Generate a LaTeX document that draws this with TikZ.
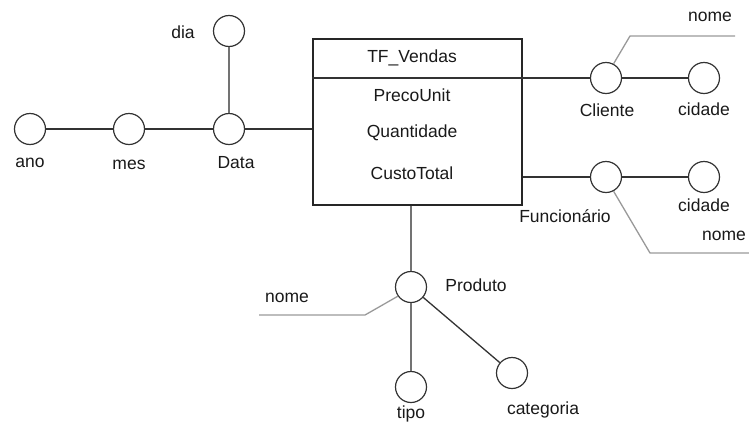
\documentclass[tikz,border=0pt]{standalone}
\usepackage{fontspec}
\setmainfont{Liberation Sans}
\usetikzlibrary{calc}

\tikzset{
    attr/.style={circle, draw=black!80, line width=1.2pt, minimum size=31pt, inner sep=0pt},
    lbl/.style={font=\fontsize{17.5}{20}\selectfont, text=black!90, inner sep=1pt},
    link/.style={line width=1.3pt, draw=black!80},
    greylink/.style={line width=1.8pt, draw=black!55},
    namelink/.style={line width=1.3pt, draw=black!40}
}

\begin{document}
\begin{tikzpicture}[x=1pt, y=-1pt]
    \useasboundingbox (0,0) rectangle (749,426);

    % Fact table
    \node[draw=black!85, line width=1.3pt, minimum width=209pt, minimum height=166pt, inner sep=0pt] (vendas) at (417.5,122) {};
    \draw[line width=1.3pt, black!80] (vendas.west |- 0,78) -- (vendas.east |- 0,78);
    \node[lbl] (tf) at (412,58) {TF\_Vendas};
    \node[lbl] (preco) at (412,95) {PrecoUnit};
    \node[lbl] (qtd) at (412,133) {Quantidade};
    \node[lbl] (custo) at (412,173) {CustoTotal};

    % Data dimension
    \node[attr] (ano) at (30,129) {};
    \node[attr] (mes) at (129,129) {};
    \node[attr] (data) at (229,129) {};
    \node[attr] (dia) at (229,31) {};
    \node[lbl] (anolbl) at (30,163) {ano};
    \node[lbl] (meslbl) at (129,165) {mes};
    \node[lbl] (datalbl) at (236,163) {Data};
    \node[lbl] (dialbl) at (183,32) {dia};

    \draw[link] (ano) -- (mes);
    \draw[link] (mes) -- (data);
    \draw[link] (data) -- (data -| vendas.west);
    \draw[greylink] (data) -- (dia);

    % Cliente dimension
    \node[attr] (cliente) at (606,78) {};
    \node[attr] (cidadecli) at (704,78) {};
    \node[lbl] (clientelbl) at (607,110) {Cliente};
    \node[lbl] (cidadeclilbl) at (704,109) {cidade};
    \node[lbl] (nomeclilbl) at (710,17) {nome};
    \coordinate (nomecli1) at (630,36);
    \coordinate (nomecli2) at (735,36);

    \draw[link] (cliente -| vendas.east) -- (cliente);
    \draw[link] (cliente) -- (cidadecli);
    \draw[namelink] (cliente.62) -- (nomecli1) -- (nomecli2);

    % Funcionario dimension
    \node[attr] (func) at (606,177) {};
    \node[attr] (cidadefunc) at (704,177) {};
    \node[lbl] (funclbl) at (565,216) {Funcionário};
    \node[lbl] (cidadefunclbl) at (704,205) {cidade};
    \node[lbl] (nomefunclbl) at (724,236) {nome};
    \coordinate (nomefunc1) at (650,253);
    \coordinate (nomefunc2) at (749,253);

    \draw[link] (func -| vendas.east) -- (func);
    \draw[link] (func) -- (cidadefunc);
    \draw[namelink] (func.-62) -- (nomefunc1) -- (nomefunc2);

    % Produto dimension
    \node[attr] (produto) at (411,287) {};
    \node[attr] (tipo) at (411,387) {};
    \node[attr] (categoria) at (512,373) {};
    \node[lbl] (produtolbl) at (476,285) {Produto};
    \node[lbl] (tipolbl) at (411,414) {tipo};
    \node[lbl] (categorialbl) at (543,410) {categoria};
    \node[lbl] (nomeprodlbl) at (287,298) {nome};
    \coordinate (nomeprod1) at (365,315);
    \coordinate (nomeprod2) at (259,315);

    \draw[greylink] (vendas.south -| produto) -- (produto);
    \draw[greylink] (produto) -- (tipo);
    \draw[link] (produto) -- (categoria);
    \draw[namelink] (produto.215) -- (nomeprod1) -- (nomeprod2);
\end{tikzpicture}
\end{document}
